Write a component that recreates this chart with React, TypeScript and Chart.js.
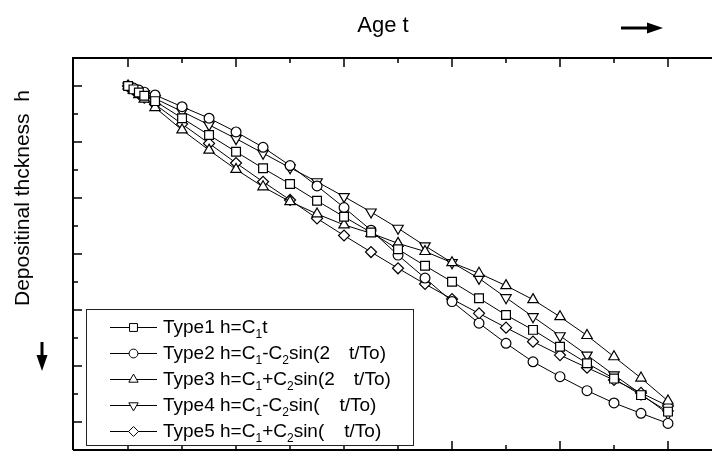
import React, { useEffect, useRef } from "react";
import { Chart, registerables } from "chart.js";
import { drawPoint } from "chart.js/helpers";

Chart.register(...registerables);

// Age t (x) and depositional thickness h (y, increasing downward)
const ages = [0, 0.2, 0.4, 0.6, 1, 2, 3, 4, 5, 6, 7, 8, 9, 10, 11, 12, 13, 14, 15, 16, 17, 18, 19, 20];
const type1 = [0, 0.12, 0.23, 0.35, 0.54, 1.15, 1.75, 2.35, 2.94, 3.5, 4.1, 4.67, 5.23, 5.83, 6.42, 6.99, 7.58, 8.18, 8.71, 9.31, 9.9, 10.45, 11.04, 11.63];
const type2 = [0, 0.075, 0.145, 0.22, 0.32, 0.74, 1.15, 1.64, 2.19, 2.84, 3.57, 4.34, 5.15, 6.04, 6.86, 7.7, 8.47, 9.19, 9.85, 10.38, 10.88, 11.32, 11.69, 12.05];
const type3 = [0, 0.16, 0.31, 0.47, 0.77, 1.57, 2.29, 2.98, 3.6, 4.13, 4.57, 4.96, 5.26, 5.62, 5.91, 6.31, 6.69, 7.13, 7.63, 8.24, 8.91, 9.67, 10.43, 11.25];
const type4 = [0, 0.09, 0.18, 0.27, 0.45, 0.91, 1.39, 1.88, 2.4, 2.92, 3.42, 3.95, 4.5, 5.08, 5.71, 6.31, 6.87, 7.56, 8.24, 8.92, 9.61, 10.32, 11.0, 11.71];
const type5 = [0, 0.14, 0.28, 0.42, 0.66, 1.36, 2.05, 2.75, 3.42, 4.07, 4.73, 5.34, 5.93, 6.51, 7.07, 7.61, 8.12, 8.63, 9.13, 9.61, 10.06, 10.5, 10.96, 11.43];

const seriesNames = ["Type1", "Type2", "Type3", "Type4", "Type5"];
const seriesValues = [type1, type2, type3, type4, type5];
const pointStyles = ["rect", "circle", "triangle", "triangle", "rectRot"];
const pointRotations = [0, 0, 0, 180, 0];
const pointRadii = [6.2, 4.9, 6, 6, 5.5];

const xTickValues = [0, 2, 4, 6, 8, 10, 12, 14, 16, 18, 20];
const yTickValues = [0, 1, 2, 3, 4, 5, 6, 7, 8, 9, 10, 11, 12];

const LEG = { left: 86, top: 309, right: 413, bottom: 445, rowY: [327, 353, 379, 405, 431], lineX0: 110, lineX1: 157, markX: 133.5 };

const framePlugin = {
  id: "frame",
  afterDatasetsDraw(chart: any) {
    const { ctx, chartArea: a, scales } = chart;
    const x = scales.x;
    const y = scales.y;
    ctx.save();
    ctx.strokeStyle = "#000";
    ctx.fillStyle = "#000";
    ctx.lineWidth = 2;
    ctx.beginPath();
    ctx.moveTo(a.left, a.bottom);
    ctx.lineTo(a.left, a.top);
    ctx.lineTo(a.right, a.top);
    ctx.moveTo(a.left, a.bottom);
    ctx.lineTo(a.right, a.bottom);
    ctx.stroke();

    ctx.lineWidth = 1.5;
    ctx.beginPath();
    for (const v of xTickValues) {
      const px = Math.round(x.getPixelForValue(v));
      const len = v % 4 === 0 ? 9 : 5;
      ctx.moveTo(px, a.top);
      ctx.lineTo(px, a.top + len);
      ctx.moveTo(px, a.bottom);
      ctx.lineTo(px, a.bottom - len);
    }
    for (const v of yTickValues) {
      const py = Math.round(y.getPixelForValue(v));
      const len = v % 2 === 0 ? 9 : 5;
      ctx.moveTo(a.left, py);
      ctx.lineTo(a.left + len, py);
    }
    ctx.stroke();

    // legend box and symbols
    ctx.fillStyle = "#fff";
    ctx.fillRect(LEG.left, LEG.top, LEG.right - LEG.left, LEG.bottom - LEG.top);
    ctx.strokeStyle = "#222";
    ctx.lineWidth = 1;
    ctx.strokeRect(LEG.left + 0.5, LEG.top + 0.5, LEG.right - LEG.left, LEG.bottom - LEG.top);
    seriesNames.forEach((_, i) => {
      const ry = LEG.rowY[i] + 0.5;
      ctx.strokeStyle = "#000";
      ctx.lineWidth = 1;
      ctx.beginPath();
      ctx.moveTo(LEG.lineX0, ry);
      ctx.lineTo(LEG.lineX1, ry);
      ctx.stroke();
      ctx.fillStyle = "#fff";
      ctx.strokeStyle = "#000";
      ctx.lineWidth = 1;
      drawPoint(ctx, { pointStyle: pointStyles[i], radius: pointRadii[i] * 0.9, rotation: pointRotations[i], borderWidth: 1 } as any, LEG.markX, ry);
    });

    // arrows
    ctx.fillStyle = "#000";
    ctx.strokeStyle = "#000";
    ctx.lineWidth = 3;
    ctx.beginPath();
    ctx.moveTo(621, 28);
    ctx.lineTo(650, 28);
    ctx.stroke();
    ctx.beginPath();
    ctx.moveTo(647, 22.5);
    ctx.lineTo(663, 28);
    ctx.lineTo(647, 33.5);
    ctx.closePath();
    ctx.fill();
    ctx.beginPath();
    ctx.moveTo(42, 342);
    ctx.lineTo(42, 358);
    ctx.stroke();
    ctx.beginPath();
    ctx.moveTo(36.5, 355);
    ctx.lineTo(42, 371);
    ctx.lineTo(47.5, 355);
    ctx.closePath();
    ctx.fill();
    ctx.restore();
  },
};

const subStyle: React.CSSProperties = { fontSize: 12, verticalAlign: -5, lineHeight: 0 };
const gap = (w: number) => <span style={{ display: "inline-block", width: w }} />;

const formulas = [
  <>h=C<span style={subStyle}>1</span>t</>,
  <>h=C<span style={subStyle}>1</span>-C<span style={subStyle}>2</span>sin(2{gap(19)}t/To)</>,
  <>h=C<span style={subStyle}>1</span>+C<span style={subStyle}>2</span>sin(2{gap(19)}t/To)</>,
  <>h=C<span style={subStyle}>1</span>-C<span style={subStyle}>2</span>sin({gap(20)}t/To)</>,
  <>h=C<span style={subStyle}>1</span>+C<span style={subStyle}>2</span>sin({gap(20)}t/To)</>,
];

export default function App() {
  const ref = useRef<HTMLCanvasElement>(null);
  useEffect(() => {
    const chart = new Chart(ref.current as HTMLCanvasElement, {
      type: "line",
      data: {
        datasets: seriesValues.map((vals, i) => ({
          label: seriesNames[i],
          data: ages.map((t, k) => ({ x: t, y: vals[k] })),
          borderColor: "#000",
          borderWidth: 1,
          backgroundColor: "#fff",
          pointStyle: pointStyles[i] as any,
          pointRotation: pointRotations[i],
          pointRadius: pointRadii[i],
          pointBackgroundColor: "#fff",
          pointBorderColor: "#000",
          pointBorderWidth: 1.2,
          fill: false,
          tension: 0,
        })),
      },
      options: {
        responsive: false,
        animation: false,
        layout: { autoPadding: false, padding: { left: 73, top: 58, right: 0, bottom: 3 } },
        scales: {
          x: { type: "linear", display: false, min: -2.04, max: 21.63 },
          y: { type: "linear", display: false, min: -1, max: 13, reverse: true },
        },
        plugins: { legend: { display: false }, tooltip: { enabled: false } },
      },
      plugins: [framePlugin],
    });
    return () => chart.destroy();
  }, []);

  return (
    <div style={{ position: "absolute", left: 0, top: 0, width: 712, height: 453, background: "#fff", color: "#000", fontFamily: '"Liberation Sans", Arial, sans-serif', overflow: "hidden" }}>
      <canvas ref={ref} width={712} height={453} style={{ position: "absolute", left: 0, top: 0, width: 712, height: 453 }} />
      <div style={{ position: "absolute", left: 383, top: 25, transform: "translate(-50%,-50%)", fontSize: 22, whiteSpace: "pre" }}>Age t</div>
      <div style={{ position: "absolute", left: 22, top: 198, transform: "translate(-50%,-50%) rotate(-90deg)", fontSize: 21, whiteSpace: "pre" }}>Depositinal thckness  h</div>
      {seriesNames.map((name, i) => (
        <div key={name} style={{ position: "absolute", left: 163, top: LEG.rowY[i] - 12, height: 24, lineHeight: "24px", fontSize: 19, whiteSpace: "pre" }}>
          {name} {formulas[i]}
        </div>
      ))}
    </div>
  );
}
